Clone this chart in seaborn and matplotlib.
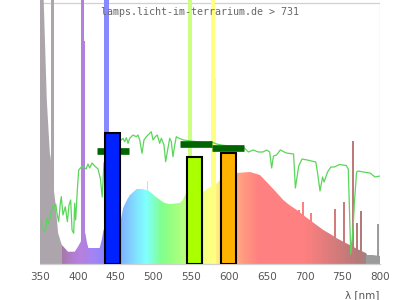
import numpy as np
import pandas as pd
import matplotlib
matplotlib.use("Agg")
import matplotlib.pyplot as plt
from matplotlib.colors import LinearSegmentedColormap, Normalize
from matplotlib.patches import Polygon
import seaborn as sns

# ---------------- data (wavelength in nm, relative intensity, axis top = 261) -------------
# lamp continuum
cont_nm = [350, 355, 359, 363, 364, 369, 370, 374, 376, 378, 379, 383, 387, 396, 400, 403,
           410, 412, 414, 429, 432, 434, 445, 457, 460, 465, 469, 478, 485, 491, 496, 502,
           509, 515, 522, 535, 539, 542, 545, 555, 566, 575, 583, 590, 600, 610, 628, 641,
           650, 660, 672, 680, 690, 700, 707, 716, 725, 734, 743, 752, 760, 770, 782, 783,
           790, 800]
cont_val = [400, 261, 164, 111, 107, 70, 64, 31, 26, 21, 19, 15.7, 12.3, 12.3, 17, 21,
            31, 22, 16, 16, 25, 34, 40, 44, 56, 64, 69, 75, 75, 74, 72, 68,
            64, 61, 60, 61, 64, 69, 72, 72, 72, 77, 80, 85, 88, 91, 92, 89,
            82, 74, 64, 59, 54, 48, 44, 39, 34, 30, 25.7, 22, 19, 15, 10.7, 9,
            9, 8]

# narrow emission peaks
peak_nm = [492, 693, 697.5, 709, 740, 752, 764, 769.5, 774.5, 797]
peak_val = [83, 54, 62, 51, 55, 62, 123, 41, 53, 40]
peak_w = [2, 2.6, 2.6, 2.6, 2.8, 2.8, 3.2, 2.6, 2.6, 3.2]

# strong mercury lines (running off the top)
line_lo = [364.5, 404.2, 408.2, 434.7, 545.4, 576.3, 581.5]
line_hi = [368.5, 408.2, 409.8, 441.0, 551.5, 581.5, 583.2]
line_val = [400, 400, 223, 400, 400, 400, 187]
line_color = ['#aca6ac', '#b380dd', '#b380dd', '#8888ff', '#ccff80', '#ffff80', '#ffff80']

# reference (daylight) curve
ref_nm = [351.8, 352.5, 357, 359.3, 361.5, 364.2, 366.4, 368.5, 370.8, 372.6, 374.7, 376.9,
          378.2, 380.4, 383.5, 386.2, 388.4, 390.6, 392.4, 394.6, 395.9, 397.2, 399.4,
          401.2, 406, 411, 413.5, 415.7, 418.8, 422.4, 426.8, 430, 432.3, 434.6, 440,
          450, 457.6, 459.9, 462, 464.3, 466.5, 468.7, 473.1, 477.5, 479.7, 482, 485,
          487.6, 490.7, 495.2, 497.3, 499.6, 502.6, 505.2, 508.4, 510.6, 514.1, 516.3,
          518.5, 521.7, 523.8, 526, 528.3, 530.4, 534, 540, 550, 560, 570, 577, 583.8,
          590, 600, 610, 619, 625.7, 632.3, 639, 645, 650, 654, 656.6, 659, 663, 668,
          676, 685.6, 688, 692.4, 696.8, 703.7, 715, 717, 720.6, 724, 726, 730.6, 735,
          739.6, 746.4, 755.4, 758, 761.3, 764.4, 766, 769, 771, 778, 786.8, 793.5, 800]
ref_val = [44, 36, 32, 46, 40, 50, 58, 55, 60, 50, 42.3, 60.7,
           67.3, 49, 57.3, 42.3, 59, 64, 34, 30.7, 60.7, 44, 74,
           94, 98, 95, 100, 96, 101, 98, 95, 85, 67, 100, 118,
           122, 124, 125.7, 122.3, 126.3, 120.7, 125.7, 129, 127.3, 129, 124, 110.7,
           124, 127.3, 130.7, 132.3, 124, 127.3, 129, 120.7, 125.7, 119, 102.3,
           112.3, 125.7, 122.3, 107.3, 119, 127.3, 125.7, 124, 123, 122, 121, 122, 120,
           119, 118, 118, 117, 112, 114, 112, 112, 114, 112, 96, 108, 109, 114,
           111, 110, 76, 98, 105, 104, 102, 93, 73, 87, 82, 92, 97,
           97, 99.5, 98.5, 95, 10, 36, 60, 92, 93, 92, 91, 87, 88]

# colour bars and their markers
bar_nm = [445.75, 554.25, 599.3]
bar_val = [130.7, 107.3, 110.7]
bar_color = ['#0022ff', '#aaff00', '#ffb300']
mark_nm = [446.3, 556.0, 599.3]
mark_val = [113.3, 119.8, 115.7]

x_ticks = [350, 400, 450, 500, 550, 600, 650, 700, 750, 800]
title = "lamps.licht-im-terrarium.de > 731"

# ---------------- styling -------------
sns.set_style("white")
plt.rcParams['font.family'] = ['DejaVu Sans']

stops = [(350, '#aca6ac'), (378.9, '#aca6ac'), (379, '#a678a8'), (390, '#b07cc8'),
         (402, '#b680e0'), (420, '#a484f4'), (436, '#8a84ff'), (450, '#80a0ff'),
         (465, '#80c4ff'), (480, '#80eaff'), (490, '#80ffff'), (500, '#80ffcc'),
         (510, '#80ff90'), (525, '#98ff80'), (545, '#c0ff80'), (565, '#f0ff80'),
         (578, '#ffff80'), (590, '#ffe080'), (605, '#ffb880'), (620, '#ff9880'),
         (640, '#ff8080'), (700, '#ff8080'), (740, '#d67b7b'), (770, '#b87878'),
         (781.9, '#a88080'), (782, '#9c9c9c'), (800, '#9c9c9c')]
norm = Normalize(350, 800)
cmap = LinearSegmentedColormap.from_list(
    'spec', [(norm(w), c) for w, c in stops], N=1024)

fig = plt.figure(figsize=(4, 3), dpi=100)
ax = fig.add_axes([0.1, 0.12, 0.85, 0.88])
YTOP = 261

# continuum with wavelength colour gradient
grad_x = np.linspace(350, 800, 1801)
img = cmap(norm(grad_x))[None, :, :]
im = ax.imshow(img, extent=[350, 800, 0, 264], aspect='auto', origin='lower',
               interpolation='nearest', zorder=1)
poly = Polygon(np.column_stack([np.r_[cont_nm[0], cont_nm, cont_nm[-1]],
                                np.r_[0, cont_val, 0]]),
               closed=True, transform=ax.transData, facecolor='none', edgecolor='none')
im.set_clip_path(poly)

# peaks
ax.bar(peak_nm, peak_val, width=peak_w, color=[cmap(norm(w)) for w in peak_nm],
       linewidth=0, zorder=1.5)
# mercury lines
ax.bar(line_lo, line_val, width=np.array(line_hi) - np.array(line_lo), align='edge',
       color=line_color, linewidth=0, zorder=1.5)

# reference curve
ref = pd.DataFrame({'nm': ref_nm, 'val': ref_val})
sns.lineplot(data=ref, x='nm', y='val', ax=ax, color='#5ad65a', linewidth=0.9,
             estimator=None, sort=False, zorder=2)

# markers and bars
ax.hlines(mark_val, np.array(mark_nm) - 21, np.array(mark_nm) + 21, colors='#006400',
          linewidth=4.8, zorder=3)
ax.bar(bar_nm, bar_val, width=19.5, color=bar_color, edgecolor='black',
       linewidth=1.5, zorder=4)

# frame
frame_c = '#d0d0d0'
ax.axhline(YTOP, color=frame_c, linewidth=0.9, zorder=0.5)
ax.axvline(800, ymax=YTOP / 264, color=frame_c, linewidth=0.9, zorder=0.5)
ax.axvline(350, ymax=YTOP / 264, color=frame_c, linewidth=0.9, zorder=0.5)
for s in ['top', 'right', 'left']:
    ax.spines[s].set_visible(False)
ax.spines['bottom'].set_color(frame_c)
ax.spines['bottom'].set_linewidth(0.9)

ax.set_xlim(350, 800)
ax.set_ylim(0, 264)
ax.set_xticks(x_ticks)
ax.set_xticklabels([str(t) for t in x_ticks])
ax.set_yticks([])
ax.tick_params(axis='x', length=0, pad=6, labelsize=7.5, labelcolor='#555555')
ax.set_xlabel('')
ax.set_ylabel('')

fig.text(0.5, 1 - 12 / 300, title, ha='center', va='center', fontsize=7.2,
         family='DejaVu Sans Mono', color='#666666')
fig.text(379 / 400, 1 - 295 / 300, 'λ [nm]', ha='right', va='center', fontsize=7.5,
         color='#555555')

fig.savefig('out.png', dpi=100)
